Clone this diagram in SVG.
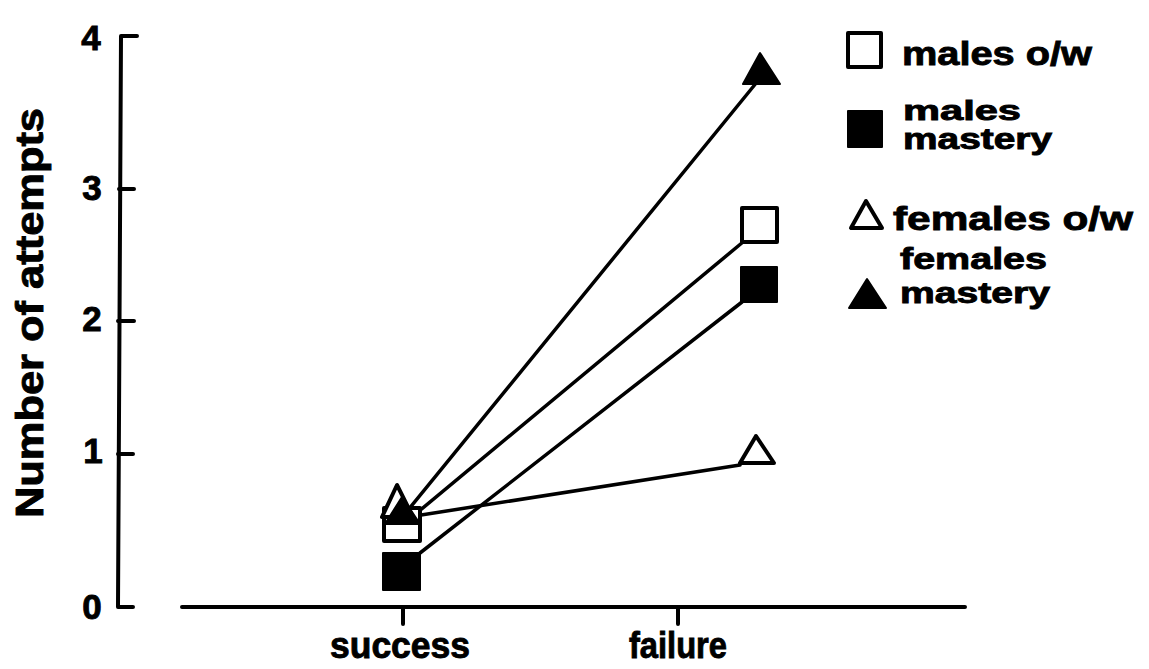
<svg xmlns="http://www.w3.org/2000/svg" width="1149" height="669" viewBox="0 0 1149 669">
<style>
.t{font-family:"Liberation Sans",Arial,sans-serif;font-weight:bold;fill:#000;stroke:#000;stroke-width:0.9}
.ax{stroke:#000;stroke-width:4;fill:none;stroke-linecap:round;stroke-linejoin:round}
.ln{stroke:#000;stroke-width:3.5;fill:none;stroke-linecap:round}
.open{fill:#fff;stroke:#000;stroke-width:4;stroke-linejoin:round}
.fill{fill:#000;stroke:#000;stroke-width:2;stroke-linejoin:round}
</style>
<rect width="1149" height="669" fill="#fff"/>
<g id="axes">
<path class="ax" d="M137,36 H121 L118,607 H133"/>
<path class="ax" d="M119,189 H134 M118,321 H134 M118,454 H133"/>
<path class="ax" d="M182,607 H965 M403,607 V624 M678,607 V624"/>
<g class="t" font-size="35" text-anchor="middle">
<text x="91" y="50">4</text>
<text x="92" y="200">3</text>
<text x="92" y="331">2</text>
<text x="93" y="463">1</text>
<text x="92" y="619">0</text>
</g>
<text class="t" font-size="38" text-anchor="middle" transform="translate(43,313) rotate(-90)" textLength="410" lengthAdjust="spacingAndGlyphs">Number of attempts</text>
<text class="t" font-size="37" x="400" y="658" text-anchor="middle" textLength="140" lengthAdjust="spacingAndGlyphs">success</text>
<text class="t" font-size="37" x="678" y="658" text-anchor="middle" textLength="98" lengthAdjust="spacingAndGlyphs">failure</text>
</g>
<g id="connectors">
<line class="ln" x1="404" y1="515" x2="757" y2="82"/>
<line class="ln" x1="418" y1="512" x2="743" y2="242"/>
<line class="ln" x1="420" y1="553" x2="742" y2="302"/>
<line class="ln" x1="402" y1="518" x2="740" y2="465"/>
</g>
<g id="success-points">
<rect class="open" x="384" y="508" width="36" height="33"/>
<rect class="fill" x="383" y="553" width="37" height="37"/>
<polygon class="open" points="397,485 382,517 413,517"/>
<polygon class="fill" points="402,497 385,524 420,524"/>
</g>
<g id="failure-points">
<polygon class="fill" points="760,53 743,84 780,84"/>
<rect class="open" x="742" y="208" width="35" height="34"/>
<rect class="fill" x="741" y="267" width="36" height="35"/>
<polygon class="open" points="756,436 740,463 774,463"/>
</g>
<g id="legend-males-ow">
<rect class="open" x="848" y="33" width="33" height="34"/>
<text class="t" font-size="34" x="902" y="65" textLength="190" lengthAdjust="spacingAndGlyphs">males o/w</text>
</g>
<g id="legend-males-mastery">
<rect class="fill" x="848" y="111" width="34" height="36"/>
<text class="t" font-size="28" x="903" y="120" textLength="118" lengthAdjust="spacingAndGlyphs">males</text>
<text class="t" font-size="29" x="903" y="149" textLength="149" lengthAdjust="spacingAndGlyphs">mastery</text>
</g>
<g id="legend-females-ow">
<polygon class="open" points="866,201 851,228 882,228"/>
<text class="t" font-size="34" x="893" y="230" textLength="240" lengthAdjust="spacingAndGlyphs">females o/w</text>
</g>
<g id="legend-females-mastery">
<polygon class="fill" points="867,279 849,308 886,308"/>
<text class="t" font-size="30" x="900" y="269" textLength="147" lengthAdjust="spacingAndGlyphs">females</text>
<text class="t" font-size="30" x="900" y="303" textLength="150" lengthAdjust="spacingAndGlyphs">mastery</text>
</g>
</svg>
